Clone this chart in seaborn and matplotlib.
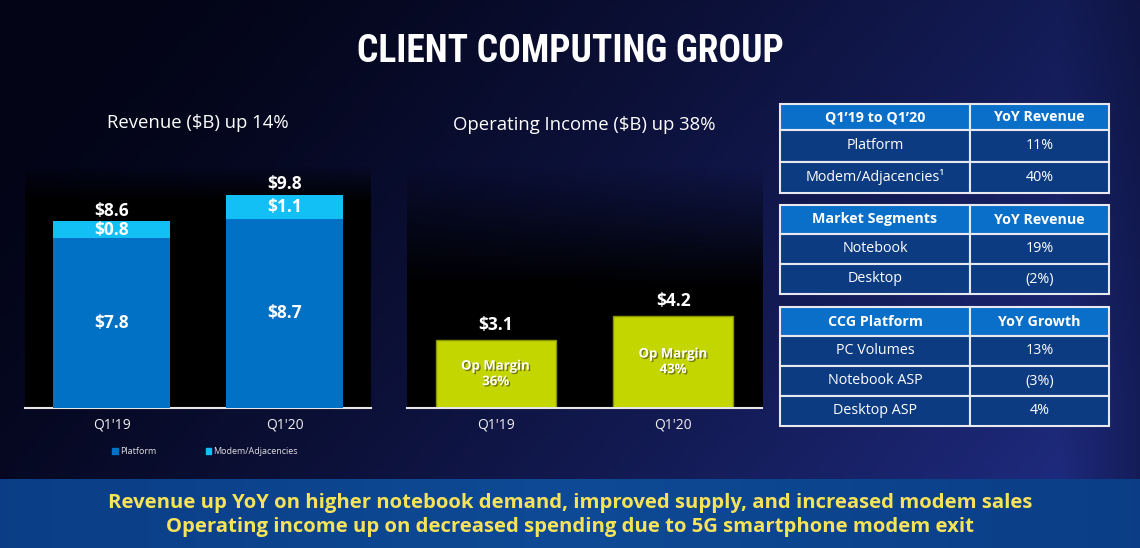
import matplotlib
matplotlib.use("Agg")
import matplotlib.pyplot as plt
import matplotlib.patheffects as pe
from matplotlib.patches import Rectangle, Patch
import numpy as np
import pandas as pd
import seaborn as sns

# chart data
quarters = ["Q1'19", "Q1'20"]
platform_rev = [7.8, 8.7]
modem_rev = [0.8, 1.1]
op_income = [3.1, 4.2]
op_margin = [36, 43]

# side tables
tbl1_head = ["Q1\u201919 to Q1\u201920", "YoY Revenue"]
tbl1_rows = [["Platform", "11%"], ["Modem/Adjacencies\u00b9", "40%"]]
tbl2_head = ["Market Segments", "YoY Revenue"]
tbl2_rows = [["Notebook", "19%"], ["Desktop", "(2%)"]]
tbl3_head = ["CCG Platform", "YoY Growth"]
tbl3_rows = [["PC Volumes", "13%"], ["Notebook ASP", "(3%)"], ["Desktop ASP", "4%"]]

footer = ["Revenue up YoY on higher notebook demand, improved supply, and increased modem sales",
          "Operating income up on decreased spending due to 5G smartphone modem exit"]

sns.set_style("white")
plt.rcParams['font.family'] = ['Open Sans', 'DejaVu Sans']

BLUE = "#0071c5"
CYAN = "#12c0f6"
LIME = "#c4d600"

W, H = 1140, 548
fig = plt.figure(figsize=(W / 100, H / 100), dpi=100)

# background gradient
bg = fig.add_axes([0, 0, 1, 1], zorder=-10)
xx, yy = np.meshgrid(np.linspace(0, 1, 300), np.linspace(0, 1, 150))
t = np.clip(0.85 * xx + 0.35 * yy - 0.1, 0, 1) ** 1.3
edge = np.clip((xx - 0.93) / 0.07, 0, 1) * 0.35
t = t * (1 - edge)
c0 = np.array([3, 4, 22]) / 255
c1 = np.array([30, 42, 125]) / 255
img = c0 + (c1 - c0) * t[..., None]
bg.imshow(img, extent=[0, 1, 0, 1], aspect='auto', origin='upper')
# bottom banner
xb = np.linspace(0, 1, 300)
tb = 1 - np.abs(xb - 0.5) * 1.1
c2 = np.array([8, 52, 120]) / 255
c3 = np.array([14, 74, 150]) / 255
ban = c2 + (c3 - c2) * tb[None, :, None]
bg.imshow(ban, extent=[0, 1, 0, 69 / H], aspect='auto')
bg.set_xlim(0, 1)
bg.set_ylim(0, 1)
bg.axis('off')


def panel_fade(ax, depth):
    g = np.linspace(0, 1, 100)[:, None]
    a = np.clip(g / depth, 0, 1)
    rgba = np.zeros((100, 1, 4))
    rgba[..., 3] = a
    ax.imshow(rgba, extent=[0, 1, 0, 1], transform=ax.transAxes, aspect='auto',
              origin='upper', zorder=0)


def style_ax(ax):
    ax.set_facecolor('none')
    for s in ['top', 'right', 'left']:
        ax.spines[s].set_visible(False)
    ax.spines['bottom'].set_color('#e6e6e6')
    ax.spines['bottom'].set_linewidth(1.5)
    ax.set_yticks([])
    ax.set_xlabel("")
    ax.set_ylabel("")
    ax.tick_params(axis='x', length=0, pad=7, labelsize=10, labelcolor='#f0f0f0')


# Revenue stacked bars
df_rev = pd.DataFrame({"quarter": quarters, "platform": platform_rev, "modem": modem_rev})
df_rev["total"] = df_rev["platform"] + df_rev["modem"]

ax1 = fig.add_axes([25 / W, 140 / H, 346 / W, 243 / H])
panel_fade(ax1, 0.15)
sns.barplot(data=df_rev, x="quarter", y="total", color=CYAN, saturation=1, width=0.68,
            edgecolor='none', linewidth=0, ax=ax1, zorder=2)
sns.barplot(data=df_rev, x="quarter", y="platform", color=BLUE, saturation=1, width=0.68,
            edgecolor='none', linewidth=0, ax=ax1, zorder=3)
ax1.set_xlim(-0.5, 1.5)
ax1.set_ylim(0, 11.17)
style_ax(ax1)
lbl = dict(color='white', fontsize=12.5, fontweight='bold', ha='center', va='center', zorder=5)
ax1.bar_label(ax1.containers[0], labels=[f"${v:.1f}" for v in df_rev["total"]],
              padding=1, color='white', fontsize=12.5, fontweight='bold')
for i, r in df_rev.iterrows():
    ax1.text(i, r["platform"] + r["modem"] / 2, f"${r['modem']:.1f}", **lbl)
    ax1.text(i, r["platform"] / 2, f"${r['platform']:.1f}", **lbl)
ax1.text(0.5, 1 + 42 / 243, "Revenue ($B) up 14%", transform=ax1.transAxes,
         ha='center', va='center', color='white', fontsize=13.3)
handles = [Patch(color=BLUE, label="Platform"), Patch(color=CYAN, label="Modem/Adjacencies")]
ax1.legend(handles=handles, loc='center', bbox_to_anchor=(0.52, -0.18), ncol=2, frameon=False,
           fontsize=6.5, labelcolor='#e0e0e0', handlelength=0.6, handleheight=0.6,
           handletextpad=0.2, columnspacing=5.5)

# Operating income bars
df_oi = pd.DataFrame({"quarter": quarters, "income": op_income, "margin": op_margin})
ax2 = fig.add_axes([407 / W, 140 / H, 355 / W, 243 / H])
panel_fade(ax2, 0.5)
sns.barplot(data=df_oi, x="quarter", y="income", color=LIME, saturation=1, width=0.675,
            edgecolor="#8a9600", linewidth=1, ax=ax2, zorder=2)
ax2.set_xlim(-0.5, 1.5)
ax2.set_ylim(0, 11.05)
style_ax(ax2)
ax2.bar_label(ax2.containers[0], labels=[f"${v:.1f}" for v in df_oi["income"]],
              padding=4, color='white', fontsize=12.5, fontweight='bold')
shadow = [pe.SimplePatchShadow(offset=(1, -1), shadow_rgbFace='#404000', alpha=0.6), pe.Normal()]
ax2.bar_label(ax2.containers[0], labels=[f"Op Margin\n{m}%" for m in df_oi["margin"]],
              label_type='center', color='white', fontsize=9.5, fontweight='bold',
              linespacing=1.25, path_effects=shadow)
ax2.text(0.5, 1 + 40 / 243, "Operating Income ($B) up 38%", transform=ax2.transAxes,
         ha='center', va='center', color='white', fontsize=13.3)

# tables
tax = fig.add_axes([0, 0, 1, 1], zorder=5)
tax.set_xlim(0, W)
tax.set_ylim(H, 0)
tax.axis('off')
x0, xm, x1 = 780, 970, 1109


def draw_table(top, head_h, row_h, head, rows):
    y = top
    cells = [(head, head_h, True)] + [(r, row_h, False) for r in rows]
    for vals, h, is_head in cells:
        for (a, b), v in zip([(x0, xm), (xm, x1)], vals):
            fc = "#0a6fc8" if is_head else "#0c3b82"
            tax.add_patch(Rectangle((a, y), b - a, h, facecolor=fc, edgecolor='#e8e8f0', linewidth=1.5))
            tax.text((a + b) / 2, y + h / 2, v, ha='center', va='center', color='white',
                     fontsize=10.3, fontweight='bold' if is_head else 'normal')
        y += h


draw_table(104, 26, 31.5, tbl1_head, tbl1_rows)
draw_table(205, 29, 30, tbl2_head, tbl2_rows)
draw_table(307, 29, 30, tbl3_head, tbl3_rows)

# title and footer
fig.text(0.5, 1 - 52 / H, "CLIENT COMPUTING GROUP", ha='center', va='center', color='white',
         fontsize=27, fontweight='bold', fontstretch='condensed',
         family=['Roboto Condensed', 'DejaVu Sans'])
fig.text(0.5, 1 - 503 / H, footer[0], ha='center', va='center', color='#f7e35a',
         fontsize=14.6, fontweight='bold')
fig.text(0.5, 1 - 527 / H, footer[1], ha='center', va='center', color='#f7e35a',
         fontsize=14.6, fontweight='bold')

fig.savefig("out.png", dpi=100)
